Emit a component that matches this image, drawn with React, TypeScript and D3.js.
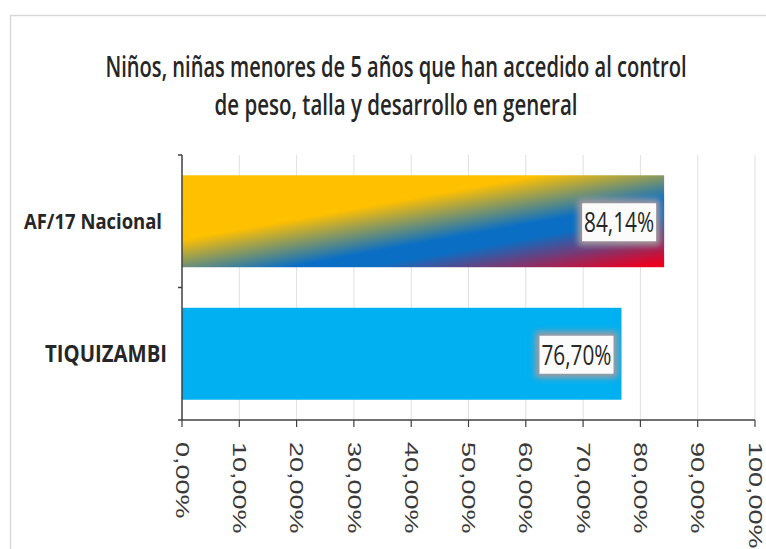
import React from "react";
import * as d3 from "d3";

const titleLines = [
  "Niños, niñas menores de 5 años que han accedido al control",
  "de peso, talla y desarrollo en general",
];
const categories = ["AF/17 Nacional", "TIQUIZAMBI"];
const values = [0.8414, 0.767];
const valueLabels = ["84,14%", "76,70%"];
const xTicks = [0, 0.1, 0.2, 0.3, 0.4, 0.5, 0.6, 0.7, 0.8, 0.9, 1.0];
const xTickLabels = ["0,00%", "10,00%", "20,00%", "30,00%", "40,00%", "50,00%", "60,00%", "70,00%", "80,00%", "90,00%", "100,00%"];

const W = 766;
const H = 549;
const plot = { left: 182, right: 755, top: 155, bottom: 420 };

export default function App() {
  const x = d3.scaleLinear().domain([0, 1]).range([plot.left, plot.right]);
  const y = d3
    .scaleBand<string>()
    .domain(categories)
    .range([plot.top, plot.bottom])
    .paddingInner(0.306)
    .paddingOuter(0.153);

  const bw = y.bandwidth();
  const b0x = x(0);
  const b0y = y(categories[0])!;
  const b0w = x(values[0]) - x(0);
  const isoX = 0.87 * b0w;
  const isoY = -0.82 * bw;
  const nLen = Math.hypot(isoX, isoY);
  const nx = -isoY / nLen;
  const ny = isoX / nLen;
  const L = b0w * nx + bw * ny;

  const catLabelLen = [138, 122];
  const catLabelSize = [22, 24];
  const fills = ["url(#flagGrad)", "#00B0F0"];

  const bandEdges = [plot.top, ...categories.map((c) => y(c)! - (y.step() * y.paddingInner()) / 2).slice(1), plot.bottom];

  return (
    <svg width={W} height={H} style={{ position: "absolute", left: 0, top: 0, background: "#fff" }}>
      <defs>
        <linearGradient id="flagGrad" gradientUnits="userSpaceOnUse" x1={b0x} y1={b0y} x2={b0x + nx * L} y2={b0y + ny * L}>
          <stop offset="0" stopColor="#FFC000" />
          <stop offset="0.36" stopColor="#FFC000" />
          <stop offset="0.62" stopColor="#0A6FC4" />
          <stop offset="0.7" stopColor="#0A6FC4" />
          <stop offset="0.97" stopColor="#EA0020" />
          <stop offset="1" stopColor="#EA0020" />
        </linearGradient>
        <filter id="blurBox" x="-30%" y="-30%" width="160%" height="160%">
          <feGaussianBlur stdDeviation="3" />
        </filter>
      </defs>

      <rect x={10.5} y={15.5} width={780} height={560} fill="#fff" stroke="#d9d9d9" strokeWidth={1.5} />

      {titleLines.map((t, i) => (
        <g key={i} transform={`translate(396,${77 + i * 38}) scale(1,1.45)`}>
          <text
            x={0}
            y={0}
            textAnchor="middle"
            fontFamily="Open Sans"
            fontWeight={600}
            fontSize={20.5}
            fill="#262626"
            textLength={i === 0 ? 581 : 363}
            lengthAdjust="spacingAndGlyphs"
          >
            {t}
          </text>
        </g>
      ))}

      {xTicks.slice(1).map((t, i) => (
        <line key={i} x1={x(t)} x2={x(t)} y1={plot.top} y2={plot.bottom} stroke="#e0e0e0" strokeWidth={1} />
      ))}

      {categories.map((c, i) => (
        <rect key={c} x={x(0)} y={y(c)!} width={x(values[i]) - x(0)} height={bw} fill={fills[i]} />
      ))}

      {categories.map((c, i) => {
        const bx = x(values[i]) - 4 - 82;
        const cy = y(c)! + bw / 2 + 1;
        return (
          <g key={c}>
            <rect x={bx} y={cy - 23} width={82} height={46} fill="#a89a9c" filter="url(#blurBox)" />
            <rect x={bx + 4} y={cy - 19} width={74} height={38} fill="#fbfbfb" />
            <text
              x={bx + 41}
              y={cy + 10}
              textAnchor="middle"
              fontFamily="Open Sans"
              fontSize={28}
              fill="#262626"
              textLength={70}
              lengthAdjust="spacingAndGlyphs"
            >
              {valueLabels[i]}
            </text>
          </g>
        );
      })}

      <line x1={plot.left} x2={plot.left} y1={plot.top} y2={plot.bottom} stroke="#404040" strokeWidth={1.5} />
      {bandEdges.map((e, i) => (
        <line key={i} x1={plot.left - 4} x2={plot.left} y1={e} y2={e} stroke="#404040" strokeWidth={1.5} />
      ))}
      {categories.map((c, i) => (
        <text
          key={c}
          x={i === 0 ? 162 : 167}
          y={y(c)! + bw / 2 + 8}
          textAnchor="end"
          fontFamily="Open Sans"
          fontWeight={700}
          fontSize={catLabelSize[i]}
          fill="#262626"
          textLength={catLabelLen[i]}
          lengthAdjust="spacingAndGlyphs"
        >
          {c}
        </text>
      ))}

      <line x1={plot.left} x2={plot.right} y1={plot.bottom} y2={plot.bottom} stroke="#404040" strokeWidth={1.5} />
      {xTicks.map((t, i) => (
        <g key={i}>
          <line x1={x(t)} x2={x(t)} y1={plot.bottom} y2={plot.bottom + 7} stroke="#404040" strokeWidth={1.2} />
          <text
            transform={`translate(${x(t)},${plot.bottom + 22}) rotate(90) scale(1.5,1)`}
            dy="0.35em"
            fontFamily="Liberation Sans"
            fontSize={18}
            fill="#3a3a3a"
          >
            {xTickLabels[i]}
          </text>
        </g>
      ))}
    </svg>
  );
}
